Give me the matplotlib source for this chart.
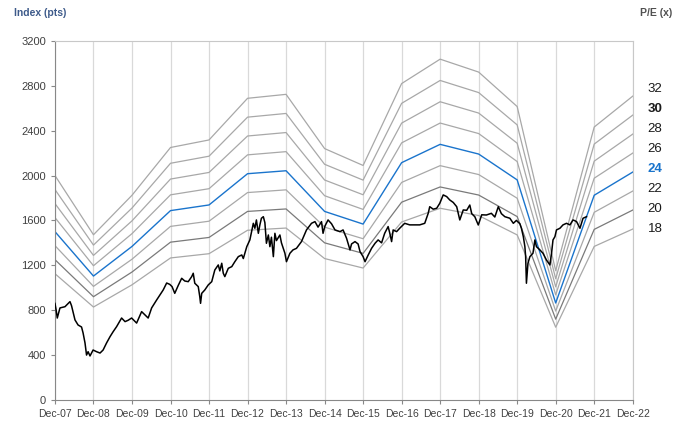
import matplotlib.pyplot as plt
import numpy as np

plt.rcParams['font.family'] = ['Liberation Sans', 'DejaVu Sans']

years = np.arange(2007, 2023)
dec_labels = ['Dec-%02d' % (y % 100) for y in years]
dec_x = years + 0.92

# trailing earnings per share at each December (pts)
eps = np.array([62.5, 46.0, 57.0, 70.3, 72.4, 84.0, 85.1, 70.0,
                65.3, 88.1, 94.9, 91.3, 81.7, 36.0, 76.0, 84.6])
pe_levels = [18, 20, 22, 24, 26, 28, 30, 32]

# index level (decimal year, pts)
idx_t = [2007.92, 2007.95, 2007.98, 2008.05, 2008.18, 2008.31, 2008.35, 2008.44, 2008.52,
         2008.61, 2008.65, 2008.70, 2008.74, 2008.78, 2008.83, 2008.91, 2009.00, 2009.09,
         2009.17, 2009.26, 2009.35, 2009.43, 2009.52, 2009.65, 2009.74, 2009.82, 2009.91,
         2010.04, 2010.17, 2010.26, 2010.34, 2010.43, 2010.56, 2010.73, 2010.82, 2010.90,
         2010.96, 2011.03, 2011.12, 2011.21, 2011.29, 2011.38, 2011.47, 2011.51, 2011.55,
         2011.64, 2011.68, 2011.70, 2011.73, 2011.81, 2011.90, 2011.99, 2012.07, 2012.16,
         2012.20, 2012.25, 2012.29, 2012.33, 2012.42, 2012.51, 2012.59, 2012.68, 2012.77,
         2012.81, 2012.90, 2012.98, 2013.07, 2013.11, 2013.15, 2013.20, 2013.24, 2013.28,
         2013.33, 2013.37, 2013.41, 2013.46, 2013.50, 2013.54, 2013.59, 2013.63, 2013.67,
         2013.76, 2013.80, 2013.89, 2013.93, 2014.02, 2014.10, 2014.19, 2014.32, 2014.45,
         2014.58, 2014.67, 2014.75, 2014.84, 2014.88, 2014.93, 2015.01, 2015.10, 2015.19,
         2015.32, 2015.40, 2015.49, 2015.58, 2015.62, 2015.71, 2015.79, 2015.84, 2015.92,
         2015.97, 2016.05, 2016.14, 2016.23, 2016.31, 2016.40, 2016.48, 2016.57, 2016.61,
         2016.66, 2016.70, 2016.79, 2016.87, 2017.00, 2017.13, 2017.26, 2017.39, 2017.52,
         2017.61, 2017.65, 2017.74, 2017.83, 2017.91, 2018.00, 2018.09, 2018.17, 2018.26,
         2018.35, 2018.43, 2018.52, 2018.61, 2018.69, 2018.74, 2018.82, 2018.91, 2019.00,
         2019.12, 2019.25, 2019.34, 2019.43, 2019.51, 2019.60, 2019.73, 2019.82, 2019.90,
         2019.99, 2020.03, 2020.08, 2020.12, 2020.14, 2020.16, 2020.20, 2020.25, 2020.33,
         2020.38, 2020.42, 2020.51, 2020.59, 2020.68, 2020.77, 2020.81, 2020.85, 2020.90,
         2020.94, 2021.03, 2021.11, 2021.20, 2021.29, 2021.37, 2021.46, 2021.55, 2021.63,
         2021.72]
idx_v = [860, 802, 730, 820, 831, 876, 840, 713, 668,
         650, 597, 508, 400, 430, 392, 445, 430, 418,
         445, 508, 564, 608, 653, 730, 698, 710, 730,
         685, 787, 757, 730, 820, 891, 980, 1042, 1030,
         1010, 950, 1020, 1084, 1060, 1054, 1099, 1129, 1040,
         1010, 920, 861, 950, 980, 1025, 1054, 1158, 1203,
         1150, 1218, 1129, 1099, 1173, 1188, 1232, 1277, 1292,
         1260, 1366, 1426, 1574, 1530, 1604, 1485, 1560, 1619,
         1633, 1580, 1396, 1470, 1366, 1450, 1277, 1485, 1420,
         1470, 1400, 1307, 1232, 1307, 1337, 1351, 1411, 1515,
         1574, 1589, 1540, 1589, 1485, 1550, 1604, 1570, 1515,
         1500, 1515, 1441, 1337, 1390, 1411, 1390, 1322, 1277,
         1232, 1290, 1351, 1396, 1426, 1400, 1485, 1545, 1490,
         1411, 1515, 1500, 1530, 1574, 1560, 1560, 1560, 1574,
         1663, 1722, 1700, 1708, 1752, 1827, 1812, 1782, 1760,
         1722, 1604, 1693, 1690, 1737, 1660, 1633, 1559, 1650,
         1648, 1663, 1630, 1722, 1660, 1633, 1619, 1574, 1600,
         1570, 1530, 1455, 1366, 1277, 1040, 1218, 1277, 1307,
         1426, 1366, 1337, 1307, 1247, 1203, 1300, 1426, 1455,
         1515, 1530, 1560, 1574, 1560, 1604, 1590, 1530, 1619,
         1633]

fig = plt.figure(figsize=(6.87, 4.21), dpi=100)
ax = fig.add_axes([0.080, 0.050, 0.841, 0.853])

for pe in pe_levels:
    if pe == 24:
        col, lw = '#1a74cc', 1.0
    elif pe == 20:
        col, lw = '#7a7a7a', 0.9
    else:
        col, lw = '#a8a8a8', 0.9
    ax.plot(dec_x, eps * pe, color=col, lw=lw, zorder=2)

ax.plot(idx_t, idx_v, color='black', lw=1.1, zorder=3)

ax.set_xlim(dec_x[0], dec_x[-1])
ax.set_ylim(0, 3200)
ax.set_xticks(dec_x)
ax.set_xticklabels(dec_labels)
ax.set_yticks(np.arange(0, 3201, 400))
ax.tick_params(axis='both', colors='#888888', labelcolor='#404040', length=3, labelsize=8)
ax.tick_params(axis='x', labelsize=7.5)
ax.xaxis.grid(True, color='#d9d9d9', lw=0.9)
ax.set_axisbelow(True)

for side in ['top', 'right']:
    ax.spines[side].set_color('#c8c8c8')
for side in ['left', 'bottom']:
    ax.spines[side].set_color('#888888')

fig.text(0.020, 0.968, 'Index (pts)', fontsize=7.5, fontweight='bold', color='#3d5a8a',
         va='center', ha='left')
fig.text(0.932, 0.968, 'P/E (x)', fontsize=7.5, fontweight='bold', color='#505050',
         va='center', ha='left')

# P/E labels on the right, evenly spaced
lab_y0 = 2771
for i, pe in enumerate(pe_levels[::-1]):
    kw = dict(fontsize=9.5, color='#1a1a1a', ha='center', va='center')
    if pe == 30:
        kw['fontweight'] = 'bold'
    if pe == 24:
        kw['fontweight'] = 'bold'
        kw['color'] = '#1a74cc'
    ax.text(dec_x[-1] + 0.58, lab_y0 - i * 178, str(pe), clip_on=False, **kw)

fig.savefig('out.png', dpi=100)
